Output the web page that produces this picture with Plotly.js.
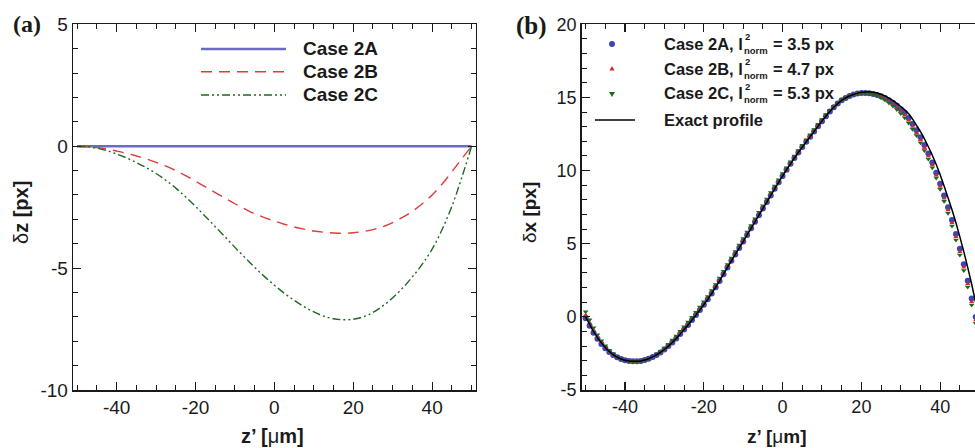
<!DOCTYPE html>
<html><head><meta charset="utf-8">
<script src="https://cdn.plot.ly/plotly-3.0.1.min.js"></script>
<style>html,body{margin:0;padding:0;overflow:hidden;background:#fff;width:975px;height:448px}#chart{width:990px;height:448px}</style>
</head><body><div id="chart"></div><script>
// ---------- Panel (a): deviation dz vs z'
const zA = [-50,-47.5,-45,-42.5,-40,-37.5,-35,-32.5,-30,-27.5,-25,-22.5,-20,-17.5,-15,-12.5,-10,-7.5,-5,-2.5,0,2.5,5,7.5,10,12.5,15,17.5,20,22.5,25,27.5,30,32.5,35,37.5,40,42.5,45,47.5,50];
const case2A_dz = [0,0,0,0,0,0,0,0,0,0,0,0,0,0,0,0,0,0,0,0,0,0,0,0,0,0,0,0,0,0,0,0,0,0,0,0,0,0,0,0,0];
const case2B_dz = [0,-0.02,-0.06,-0.12,-0.2,-0.29,-0.4,-0.52,-0.66,-0.82,-1.0,-1.21,-1.44,-1.67,-1.9,-2.13,-2.36,-2.57,-2.77,-2.93,-3.07,-3.2,-3.31,-3.4,-3.48,-3.53,-3.56,-3.57,-3.55,-3.5,-3.42,-3.3,-3.13,-2.92,-2.67,-2.36,-2.0,-1.56,-1.05,-0.52,0];
const case2C_dz = [0,-0.02,-0.08,-0.18,-0.32,-0.48,-0.67,-0.88,-1.12,-1.4,-1.72,-2.08,-2.47,-2.88,-3.3,-3.72,-4.15,-4.56,-4.97,-5.35,-5.7,-6.03,-6.32,-6.58,-6.8,-6.97,-7.08,-7.12,-7.1,-7.0,-6.82,-6.55,-6.22,-5.82,-5.36,-4.84,-4.22,-3.43,-2.47,-1.3,0];

// ---------- Panel (b): dx vs z'
const zB = [-50,-49,-48,-47,-46,-45,-44,-43,-42,-41,-40,-39,-38,-37,-36,-35,-34,-33,-32,-31,-30,-29,-28,-27,-26,-25,-24,-23,-22,-21,-20,-19,-18,-17,-16,-15,-14,-13,-12,-11,-10,-9,-8,-7,-6,-5,-4,-3,-2,-1,0,1,2,3,4,5,6,7,8,9,10,11,12,13,14,15,16,17,18,19,20,21,22,23,24,25,26,27,28,29,30,31,32,33,34,35,36,37,38,39,40,41,42,43,44,45,46,47,48,49,50];
const case2A_dx = [-0.1,-0.6,-1.08,-1.5,-1.85,-2.15,-2.4,-2.6,-2.76,-2.88,-2.97,-3.02,-3.04,-3.04,-3.01,-2.95,-2.86,-2.74,-2.6,-2.43,-2.23,-2.0,-1.75,-1.48,-1.18,-0.87,-0.55,-0.22,0.12,0.47,0.83,1.2,1.6,2.02,2.46,2.92,3.38,3.83,4.27,4.71,5.15,5.6,6.05,6.5,6.95,7.4,7.85,8.3,8.75,9.2,9.63,10.05,10.46,10.86,11.24,11.61,11.97,12.32,12.67,13.03,13.38,13.72,14.04,14.33,14.58,14.8,14.97,15.1,15.2,15.27,15.3,15.31,15.29,15.24,15.17,15.08,14.96,14.8,14.63,14.43,14.2,13.95,13.6,13.18,12.75,12.28,11.75,11.17,10.56,9.86,9.1,8.3,7.5,6.62,5.67,4.66,3.6,2.47,1.25,0.0,-1.3];
const case2B_dx = [0.12,-0.4,-0.91,-1.36,-1.74,-2.07,-2.34,-2.56,-2.74,-2.87,-2.97,-3.02,-3.04,-3.04,-3.01,-2.95,-2.85,-2.72,-2.57,-2.39,-2.18,-1.94,-1.67,-1.39,-1.09,-0.78,-0.45,-0.12,0.22,0.57,0.93,1.3,1.7,2.12,2.56,3.02,3.48,3.93,4.37,4.81,5.25,5.7,6.15,6.6,7.05,7.5,7.95,8.4,8.85,9.29,9.72,10.12,10.53,10.92,11.3,11.67,12.03,12.38,12.73,13.09,13.44,13.77,14.08,14.36,14.6,14.81,14.97,15.1,15.2,15.27,15.3,15.31,15.29,15.22,15.14,15.03,14.89,14.71,14.52,14.3,14.05,13.79,13.43,13.0,12.57,12.1,11.56,10.99,10.38,9.68,8.91,8.1,7.3,6.42,5.46,4.45,3.39,2.26,1.03,-0.22,-1.52];
const case2C_dx = [0.35,-0.2,-0.74,-1.22,-1.63,-1.98,-2.28,-2.52,-2.71,-2.86,-2.97,-3.02,-3.04,-3.04,-3.01,-2.95,-2.84,-2.7,-2.54,-2.35,-2.13,-1.88,-1.58,-1.3,-0.99,-0.68,-0.35,-0.02,0.32,0.67,1.03,1.4,1.8,2.22,2.66,3.12,3.58,4.03,4.47,4.91,5.35,5.8,6.25,6.7,7.15,7.6,8.05,8.5,8.94,9.38,9.8,10.2,10.6,10.99,11.37,11.74,12.1,12.45,12.8,13.16,13.5,13.83,14.13,14.4,14.63,14.83,14.97,15.1,15.2,15.27,15.3,15.31,15.29,15.21,15.11,14.98,14.82,14.62,14.41,14.17,13.9,13.62,13.26,12.83,12.39,11.91,11.38,10.8,10.19,9.49,8.72,7.9,7.09,6.21,5.25,4.23,3.17,2.04,0.81,-0.44,-1.75];
const exact_dx = [0.0,-0.5,-1.0,-1.42,-1.78,-2.1,-2.37,-2.58,-2.75,-2.88,-2.97,-3.02,-3.04,-3.04,-3.01,-2.95,-2.86,-2.74,-2.6,-2.43,-2.23,-2.0,-1.75,-1.48,-1.18,-0.87,-0.55,-0.22,0.12,0.47,0.83,1.2,1.6,2.02,2.46,2.92,3.38,3.83,4.27,4.71,5.15,5.6,6.05,6.5,6.95,7.4,7.85,8.3,8.75,9.2,9.63,10.05,10.46,10.86,11.24,11.61,11.97,12.32,12.67,13.03,13.38,13.72,14.04,14.33,14.58,14.8,14.97,15.1,15.2,15.29,15.35,15.38,15.39,15.36,15.31,15.21,15.1,14.95,14.78,14.59,14.38,14.15,13.88,13.52,13.09,12.66,12.17,11.63,11.05,10.42,9.71,8.94,8.14,7.32,6.43,5.47,4.45,3.37,2.23,1.0,-0.1];

// ---------- tick labels and legend texts
const xTickVals = [-40,-20,0,20,40];
const xTickText = ['-40','-20','0','20','40'];
const yaTickVals = [-10,-5,0,5];
const yaTickText = ['-10','-5','0','5'];
const ybTickVals = [-5,0,5,10,15,20];
const ybTickText = ['-5','0','5','10','15','20'];
const legendA = ['Case 2A','Case 2B','Case 2C'];
const legendB = [['Case 2A, l','= 3.5 px'],['Case 2B, l','= 4.7 px'],['Case 2C, l','= 5.3 px']];

const W = 990, H = 448;
const X = p => p / W, Y = p => 1 - p / H;
const FONT = 'Liberation Sans, Arial, Helvetica, sans-serif';
const SERIF = 'Liberation Serif, Times New Roman, serif';
const INK = '#1a1a1a';
const COL_A = '#6b6bc4', COL_B = '#e03a3a', COL_C = '#1e6a1e';
const MK_A = '#3c46b4', MK_B = '#e02424', MK_C = '#1c6a1c';

function xAxis(d0, d1, anchor, fs) {
  return {domain:[X(d0), X(d1)], anchor, range:[-51,51], tickmode:'array', tickvals:xTickVals, ticktext:xTickText,
    ticks:'inside', ticklen:8, tickwidth:1.2, tickcolor:INK, showline:true, linewidth:1.6, linecolor:INK,
    mirror:'ticks', showgrid:false, zeroline:false, tickfont:{family:FONT, size:fs, color:INK},
    minor:{tickmode:'linear', tick0:0, dtick:5, ticks:'inside', ticklen:5, tickwidth:1, tickcolor:INK, showgrid:false}};
}
function yAxis(range, vals, text, anchor, fs) {
  return {domain:[Y(390), Y(24.3)], anchor, range, tickmode:'array', tickvals:vals, ticktext:text,
    ticks:'inside', ticklen:8, tickwidth:1.2, tickcolor:INK, showline:true, linewidth:1.6, linecolor:INK,
    mirror:'ticks', showgrid:false, zeroline:false, tickfont:{family:FONT, size:fs, color:INK},
    minor:{tickmode:'linear', tick0:0, dtick:1, ticks:'inside', ticklen:5, tickwidth:1, tickcolor:INK, showgrid:false}};
}

const traces = [
  {x:zA, y:case2A_dz, xaxis:'x', yaxis:'y', mode:'lines', line:{color:COL_A, width:2.4}, name:legendA[0]},
  {x:zA, y:case2B_dz, xaxis:'x', yaxis:'y', mode:'lines', line:{color:COL_B, width:1.4, dash:'11px,7px', shape:'spline', smoothing:1}, name:legendA[1]},
  {x:zA, y:case2C_dz, xaxis:'x', yaxis:'y', mode:'lines', line:{color:COL_C, width:1.4, dash:'8px,3px,2px,3px,2px,3px', shape:'spline', smoothing:1}, name:legendA[2]},
  {x:zB, y:case2A_dx, xaxis:'x2', yaxis:'y2', mode:'markers', marker:{symbol:'circle', size:6, color:MK_A}, name:'2A'},
  {x:zB, y:case2B_dx, xaxis:'x2', yaxis:'y2', mode:'markers', marker:{symbol:'triangle-up', size:4.5, color:MK_B}, name:'2B'},
  {x:zB, y:case2C_dx, xaxis:'x2', yaxis:'y2', mode:'markers', marker:{symbol:'triangle-down', size:5, color:MK_C}, name:'2C'},
  {x:zB, y:exact_dx, xaxis:'x2', yaxis:'y2', mode:'lines', line:{color:'#000', width:1.5, shape:'spline', smoothing:0.5}, name:'Exact profile'}
];

const ann = [];
const shapes = [];
function txt(text, px, py, size, opts) {
  ann.push(Object.assign({text, x:X(px), y:Y(py), xref:'paper', yref:'paper', showarrow:false,
    xanchor:'left', yanchor:'middle', font:{family:FONT, size, color:INK}}, opts || {}));
}
// panel labels
txt('<b>(a)</b>', 11, 24, 24, {font:{family:SERIF, size:24, color:INK}});
txt('<b>(b)</b>', 514, 26, 25, {font:{family:SERIF, size:25, color:INK}});
// axis titles
txt('<b>z’ [</b><span style="font-weight:normal">μ</span><b>m]</b>', 272, 436, 20, {xanchor:'center'});
txt('<b>z’ [</b><span style="font-weight:normal">μ</span><b>m]</b>', 777, 436, 19, {xanchor:'center'});
txt('<span style="font-weight:normal">δ</span><b>z [px]</b>', 21, 213, 20, {xanchor:'center', textangle:-90});
txt('<span style="font-weight:normal">δ</span><b>x [px]</b>', 529, 213, 19, {xanchor:'center', textangle:-90});

// legend (a)
const rowsA = [49, 71.7, 95];
const legStyleA = [{color:COL_A, width:2.4}, {color:COL_B, width:1.4, dash:'11px,7px'}, {color:COL_C, width:1.4, dash:'8px,3px,2px,3px,2px,3px'}];
rowsA.forEach((r, i) => {
  shapes.push({type:'line', xref:'paper', yref:'paper', x0:X(201), x1:X(286), y0:Y(r), y1:Y(r), line:legStyleA[i]});
  txt('<b>' + legendA[i] + '</b>', 301, r - 0.5, 19);
});
// legend (b)
const rowsB = [44, 68.5, 93.3];
rowsB.forEach((r, i) => {
  txt('<b>' + legendB[i][0] + '</b>', 662, r, 16.5);
  txt('<b>2</b>', 742.5, r - 7, 9.5);
  txt('<b>norm</b>', 742, r + 6.5, 9.5);
  txt('<b>' + legendB[i][1] + '</b>', 770.5, r, 16.5);
});
txt('<b>Exact profile</b>', 662, 120, 16.5);
// legend symbols (b)
const cx = 612;
shapes.push({type:'circle', xref:'paper', yref:'paper', x0:X(cx-3), x1:X(cx+3), y0:Y(44+3), y1:Y(44-3), fillcolor:MK_A, line:{width:0}});
shapes.push({type:'path', xref:'paper', yref:'paper', path:`M${X(cx-2.5)},${Y(70.5)} L${X(cx+2.5)},${Y(70.5)} L${X(cx)},${Y(66)} Z`, fillcolor:MK_B, line:{width:0}});
shapes.push({type:'path', xref:'paper', yref:'paper', path:`M${X(cx-3)},${Y(92)} L${X(cx+3)},${Y(92)} L${X(cx)},${Y(97)} Z`, fillcolor:MK_C, line:{width:0}});
shapes.push({type:'line', xref:'paper', yref:'paper', x0:X(595), x1:X(635), y0:Y(120), y1:Y(120), line:{color:'#000', width:1.5}});

const layout = {
  width:W, height:H, margin:{l:0, r:0, t:0, b:0}, paper_bgcolor:'#fff', plot_bgcolor:'#fff', showlegend:false,
  xaxis: xAxis(73.3, 475.5, 'y', 19),
  yaxis: yAxis([-10,5], yaTickVals, yaTickText, 'x', 19),
  xaxis2: xAxis(581.7, 983.5, 'y2', 18),
  yaxis2: yAxis([-5,20], ybTickVals, ybTickText, 'x2', 18),
  annotations: ann, shapes: shapes
};
Plotly.newPlot('chart', traces, layout, {staticPlot:true, displayModeBar:false});
</script></body></html>
